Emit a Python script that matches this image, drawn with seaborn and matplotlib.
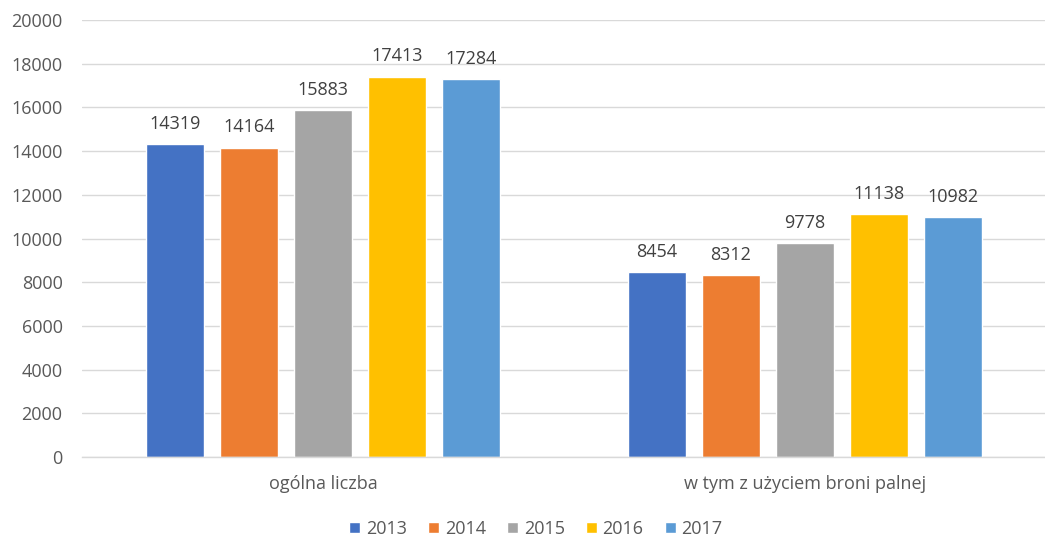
import matplotlib
matplotlib.use("Agg")
import matplotlib.pyplot as plt
import seaborn as sns
import pandas as pd

categories = ["ogólna liczba", "w tym z użyciem broni palnej"]
years = ["2013", "2014", "2015", "2016", "2017"]
values_2013 = [14319, 8454]
values_2014 = [14164, 8312]
values_2015 = [15883, 9778]
values_2016 = [17413, 11138]
values_2017 = [17284, 10982]
colors = ["#4472C4", "#ED7D31", "#A5A5A5", "#FFC000", "#5B9BD5"]

series = [values_2013, values_2014, values_2015, values_2016, values_2017]
rows = []
for y, vals in zip(years, series):
    for c, v in zip(categories, vals):
        rows.append({"kategoria": c, "rok": y, "wartosc": v})
df = pd.DataFrame(rows)

sns.set_theme(style="white")
plt.rcParams["font.family"] = ["Open Sans", "DejaVu Sans"]

fig = plt.figure(figsize=(10.45, 5.39), dpi=100)
ax = fig.add_axes([82/1045, 1 - 457/539, 964/1045, (457 - 20)/539])

sns.barplot(data=df, x="kategoria", y="wartosc", hue="rok", palette=colors,
            width=0.768, gap=0.216, ax=ax, saturation=1, legend=True)

ax.set_ylim(0, 20000)
ax.set_yticks(range(0, 20001, 2000))
ax.yaxis.grid(True, color="#D9D9D9", linewidth=1)
ax.set_axisbelow(True)
for s in ["top", "right", "left"]:
    ax.spines[s].set_visible(False)
ax.spines["bottom"].set_color("#D9D9D9")
ax.spines["bottom"].set_linewidth(1)
ax.tick_params(axis="both", length=0, labelsize=13, labelcolor="#595959")
ax.tick_params(axis="y", pad=14)
ax.tick_params(axis="x", pad=13)
ax.set_xlabel("")
ax.set_ylabel("")

for cont in ax.containers:
    ax.bar_label(cont, fmt="%d", padding=8, fontsize=13, color="#404040")

handles, labels = ax.get_legend_handles_labels()
ax.legend(handles, labels, loc="center", bbox_to_anchor=(0.471, -0.165), ncol=5,
          frameon=False, fontsize=13, labelcolor="#595959",
          handlelength=0.6, handleheight=0.6, handletextpad=0.3, columnspacing=1.2)

fig.savefig("out.png", dpi=100)
